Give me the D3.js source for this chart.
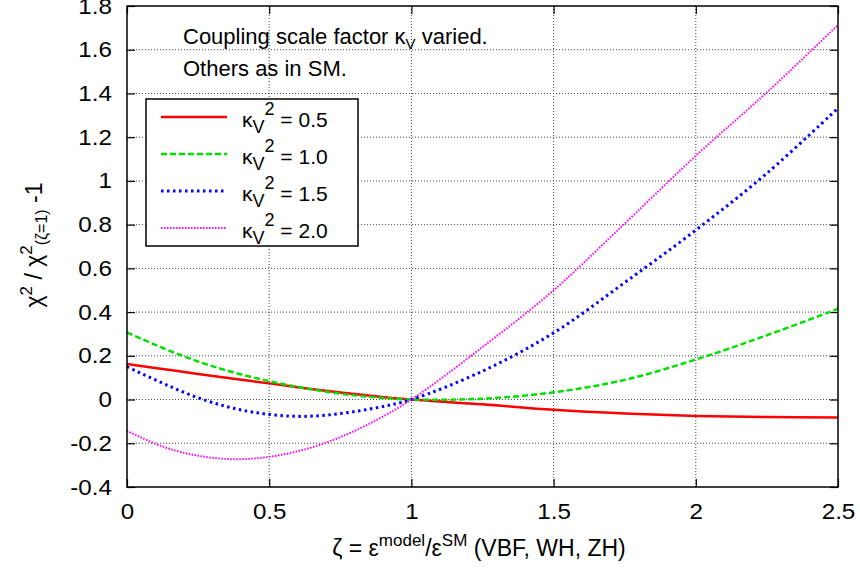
<!DOCTYPE html>
<html>
<head>
<meta charset="utf-8">
<script src="https://cdn.jsdelivr.net/npm/d3@7"></script>
<style>
  body { margin: 0; background: #fff; }
  svg { font-family: "Liberation Sans", Arial, sans-serif; }
</style>
</head>
<body>
<svg class="chart" width="860" height="571"></svg>
<script>
// values
const zeta = [0, 0.125, 0.25, 0.375, 0.5, 0.625, 0.75, 0.875, 1, 1.25, 1.5, 1.75, 2, 2.25, 2.5]
const kv05 = [0.163, 0.140, 0.117, 0.095, 0.074, 0.052, 0.032, 0.015, 0, -0.022, -0.047, -0.064, -0.075, -0.080, -0.082]
const kv10 = [0.307, 0.236, 0.174, 0.124, 0.084, 0.052, 0.027, 0.010, 0, 0.004, 0.033, 0.090, 0.183, 0.294, 0.415]
const kv15 = [0.150, 0.075, 0.008, -0.040, -0.068, -0.077, -0.064, -0.038, 0, 0.130, 0.305, 0.535, 0.775, 1.035, 1.333]
const kv20 = [-0.143, -0.215, -0.257, -0.273, -0.262, -0.228, -0.172, -0.095, 0, 0.240, 0.500, 0.805, 1.115, 1.405, 1.713]
const labels = ["0.5", "1.0", "1.5", "2.0"]
const xTicks = [0, 0.5, 1, 1.5, 2, 2.5]
const yTicks = [-0.4, -0.2, 0, 0.2, 0.4, 0.6, 0.8, 1, 1.2, 1.4, 1.6, 1.8]

const series = [
  { name: labels[0], values: kv05, color: "#ff0000", width: 2.5, dash: null },
  { name: labels[1], values: kv10, color: "#00e000", width: 2.5, dash: "6,3" },
  { name: labels[2], values: kv15, color: "#0000ff", width: 3, dash: "2.5,3.5" },
  { name: labels[3], values: kv20, color: "#ff00ff", width: 2, dash: "1.5,1.5" }
]

const margin = { left: 127, right: 22, top: 6, bottom: 84 }, width = 860, height = 571
const innerWidth = width - margin.left - margin.right
const innerHeight = height - margin.top - margin.bottom

const svg = d3.select(".chart")
const g = svg.append("g").attr("transform", `translate(${margin.left},${margin.top})`)

const x = d3.scaleLinear().domain([0, 2.5]).range([0, innerWidth])
const y = d3.scaleLinear().domain([-0.4, 1.8]).range([innerHeight, 0])

// grid
g.selectAll(".vgrid").data(xTicks.slice(1, -1)).join("line").attr("class", "vgrid")
  .attr("x1", d => x(d)).attr("x2", d => x(d)).attr("y1", 0).attr("y2", innerHeight)
  .attr("stroke", "#444").attr("stroke-width", 1).attr("stroke-dasharray", "1,2")
g.selectAll(".hgrid").data(yTicks.slice(1, -1)).join("line").attr("class", "hgrid")
  .attr("y1", d => y(d)).attr("y2", d => y(d)).attr("x1", 0).attr("x2", innerWidth)
  .attr("stroke", "#444").attr("stroke-width", 1).attr("stroke-dasharray", "1,2")

// inward ticks on all four sides
const tl = 8
const fmt = d => String(d)
g.append("g").attr("transform", `translate(0,${innerHeight})`)
  .call(d3.axisBottom(x).tickValues(xTicks).tickSize(-tl).tickPadding(tl + 8).tickFormat(fmt))
  .call(a => a.select(".domain").remove())
g.append("g")
  .call(d3.axisTop(x).tickValues(xTicks).tickSize(-tl).tickFormat(""))
  .call(a => a.select(".domain").remove())
  .call(a => a.selectAll("text").remove())
g.append("g")
  .call(d3.axisLeft(y).tickValues(yTicks).tickSize(-tl).tickPadding(tl + 7).tickFormat(fmt))
  .call(a => a.select(".domain").remove())
g.append("g").attr("transform", `translate(${innerWidth},0)`)
  .call(d3.axisRight(y).tickValues(yTicks).tickSize(-tl).tickFormat(""))
  .call(a => a.select(".domain").remove())
  .call(a => a.selectAll("text").remove())
g.selectAll(".tick line").attr("stroke", "#000").attr("stroke-width", 1.2)
g.selectAll(".tick text").attr("font-size", 22).attr("fill", "#000").attr("font-family", "Liberation Sans, Arial, sans-serif")
  // the original labels are drawn a bit wider than the font
  .each(function () { this.setAttribute("textLength", this.getComputedTextLength() * 1.1) })
  .attr("lengthAdjust", "spacingAndGlyphs")

// annotation
const note = g.append("text").attr("x", 56).attr("y", 38).attr("font-size", 22)
note.append("tspan").text("Coupling scale factor κ")
note.append("tspan").attr("dy", 5).attr("font-size", 15).text("V")
note.append("tspan").attr("dy", -5).text(" varied.")
g.append("text").attr("x", 56).attr("y", 70).attr("font-size", 22).text("Others as in SM.")

// curves
const line = d3.line().x((d, i) => x(zeta[i])).y(d => y(d)).curve(d3.curveCatmullRom.alpha(0.5))
g.selectAll(".curve").data(series).join("path").attr("class", "curve")
  .attr("d", d => line(d.values)).attr("fill", "none")
  .attr("stroke", d => d.color).attr("stroke-width", d => d.width)
  .attr("stroke-dasharray", d => d.dash)

// legend
const key = g.append("g").attr("transform", "translate(19,93)")
key.append("rect").attr("width", 212).attr("height", 147).attr("fill", "#fff")
  .attr("stroke", "#000").attr("stroke-width", 1.5)
const row = key.selectAll(".row").data(series).join("g").attr("class", "row")
  .attr("transform", (d, i) => `translate(0,${18 + i * 37})`)
row.append("line").attr("x1", 15).attr("x2", 81)
  .attr("stroke", d => d.color).attr("stroke-width", d => d.width).attr("stroke-dasharray", d => d.dash)
const lt = row.append("text").attr("x", 96).attr("y", 10).attr("font-size", 21)
lt.append("tspan").text("κ")
lt.append("tspan").attr("dy", 6).attr("font-size", 18).text("V")
lt.append("tspan").attr("dy", -18).attr("font-size", 18).text("2")
lt.append("tspan").attr("dy", 12).text(d => " = " + d.name)

// frame
g.append("rect").attr("width", innerWidth).attr("height", innerHeight)
  .attr("fill", "none").attr("stroke", "#000").attr("stroke-width", 1.5)

// axis titles
const xt = svg.append("text").attr("x", 479).attr("y", 556)
  .attr("text-anchor", "middle").attr("font-size", 23)
xt.append("tspan").text("ζ = ε")
xt.append("tspan").attr("dy", -10).attr("font-size", 17).text("model")
xt.append("tspan").attr("dy", 10).text("/ε")
xt.append("tspan").attr("dy", -10).attr("font-size", 17).text("SM")
xt.append("tspan").attr("dy", 10).text(" (VBF, WH, ZH)")

const yt = svg.append("text").attr("transform", "translate(42,245) rotate(-90)")
  .attr("text-anchor", "middle").attr("font-size", 23)
yt.append("tspan").text("χ")
yt.append("tspan").attr("dy", -10).attr("font-size", 17).text("2")
yt.append("tspan").attr("dy", 10).text(" / χ")
yt.append("tspan").attr("dy", -10).attr("font-size", 17).text("2")
yt.append("tspan").attr("dy", 15).attr("font-size", 16).text("(ζ=1)")
yt.append("tspan").attr("dy", -5).text(" -1")
</script>
</body>
</html>
